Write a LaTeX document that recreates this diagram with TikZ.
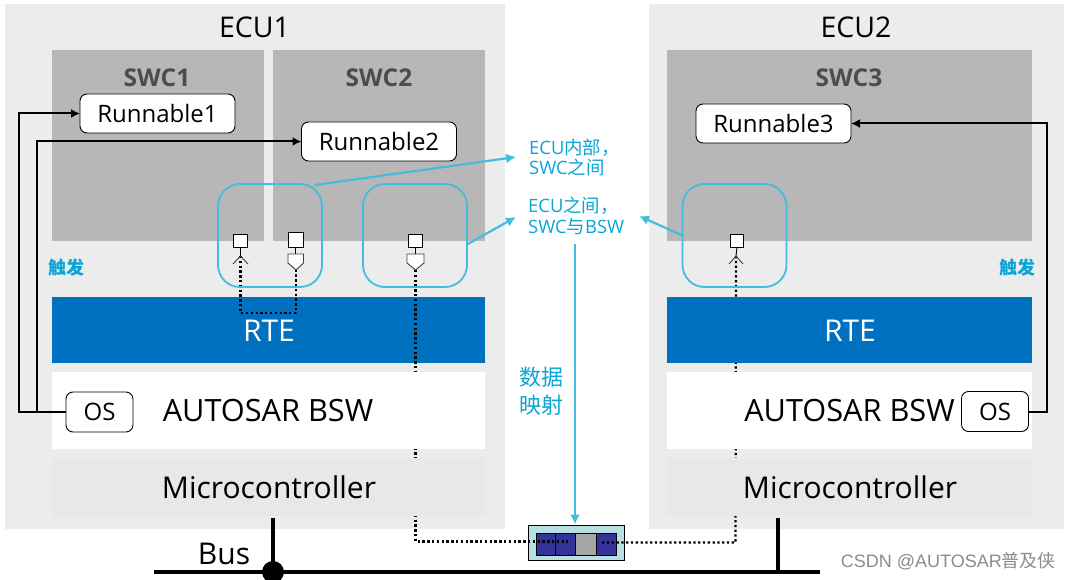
\documentclass[tikz,border=0pt]{standalone}
\usepackage{fontspec}
\setmainfont{Open Sans}
\newfontfamily\cjk{Noto Sans CJK SC}
\newfontfamily\wm{Liberation Sans}
\usetikzlibrary{arrows.meta}
\definecolor{ecubg}{HTML}{ECECEC}
\definecolor{swcbg}{HTML}{B7B7B7}
\definecolor{rteblue}{HTML}{0070C0}
\definecolor{mcubg}{HTML}{E7E8EA}
\definecolor{cyanline}{HTML}{45BCDE}
\definecolor{cyantext}{HTML}{0AA5D6}
\definecolor{bufbg}{HTML}{B7E0E4}
\definecolor{cellblue}{HTML}{333399}
\definecolor{cellgrey}{HTML}{A6A6A6}
\tikzset{
  x=1pt,y=-1pt,
  panel/.style={draw=none,inner sep=0pt,outer sep=0pt},
  ecubox/.style={panel,fill=ecubg,minimum height=525pt},
  swcbox/.style={panel,fill=swcbg,minimum height=191pt},
  layertext/.style={font=\fontsize{30}{32}\selectfont},
  bswtext/.style={font=\fontsize{30.7}{32}\selectfont},
  ecutext/.style={font=\fontsize{28.5}{30}\selectfont},
  swctext/.style={font=\fontsize{24.5}{26}\selectfont\bfseries,text=black!70},
  runbox/.style={draw=black,line width=0.9pt,fill=white,rounded corners=7pt,minimum width=155pt,minimum height=39pt,inner sep=0pt,outer sep=0pt,font=\fontsize{24}{26}\selectfont},
  osbox/.style={draw=black,line width=0.9pt,fill=white,rounded corners=7pt,minimum width=67pt,minimum height=40pt,inner sep=0pt,outer sep=0pt,font=\fontsize{24}{26}\selectfont},
  scope box/.style={draw=cyanline,line width=1.8pt,rounded corners=22pt,minimum width=104pt,minimum height=103pt,inner sep=0pt,outer sep=0pt},
  portsq/.style={draw=black,line width=1pt,fill=white,inner sep=0pt,outer sep=0pt,minimum width=14pt,minimum height=13pt},
  portstem/.style={draw=black,line width=0.9pt},
  dotline/.style={draw=black,line width=2.2pt,dash pattern=on 2.3pt off 2.5pt},
  trig/.style={draw=black,line width=2pt,-{Latex[length=9pt,width=9pt]}},
  callout/.style={draw=cyanline,line width=2.2pt,-{Latex[length=10pt,width=10pt]}},
  note/.style={inner sep=0pt,text=cyantext,anchor=west,font=\fontsize{18.4}{20}\selectfont},
  cell/.style={draw=black,line width=1pt,inner sep=0pt,outer sep=0pt,minimum height=22pt},
  busline/.style={draw=black,line width=4.2pt},
}
\begin{document}
\begin{tikzpicture}
\clip (0,0) rectangle (1070,580);
\fill[white] (0,0) rectangle (1070,580);

% ECU panels
\node[ecubox,minimum width=500pt] (ecu1) at (255,266.5) {};
\node[ecubox,minimum width=415pt] (ecu2) at (856.5,266.5) {};
\node[ecutext] (ecu1t) at (254.5,27.5) {ECU1};
\node[ecutext] (ecu2t) at (856,27.5) {ECU2};

% SWC panels
\node[swcbox,minimum width=212pt] (swc1) at (158,145.5) {};
\node[swcbox,minimum width=212pt] (swc2) at (379,145.5) {};
\node[swcbox,minimum width=365pt] (swc3) at (849.5,145.5) {};
\node[swctext] (swc1t) at (157,78) {SWC1};
\node[swctext] (swc2t) at (379,78) {SWC2};
\node[swctext] (swc3t) at (849,78) {SWC3};

% Queue on the bus
\node[draw=black,line width=1pt,fill=bufbg,inner sep=0pt,minimum width=96pt,minimum height=35pt] (buf) at (576,542.5) {};
\node[cell,fill=cellblue,minimum width=20pt] (c1) at (546,544) {};
\node[cell,fill=cellblue,minimum width=20pt] (c2) at (565.5,544) {};
\node[cell,fill=cellgrey,minimum width=21pt] (c3) at (586,544) {};
\node[cell,fill=cellblue,minimum width=20pt] (c4) at (606.5,544) {};

% RTE of ECU1 lies under the dotted line
\node[panel,fill=rteblue,minimum width=433pt,minimum height=66pt] (rte1) at (268.5,330) {};

% Port anchors
\coordinate (tipa) at (240.5,256);
\coordinate (tipb) at (296,270);
\coordinate (tipc) at (415.5,270);
\coordinate (tipd) at (736,256);
\coordinate (bendab) at (240.5,313);
\coordinate (bendba) at (296,313);
\coordinate (bendc) at (415.5,541.5);
\coordinate (endc) at (568,541.5);
\coordinate (bendd) at (735.5,542.5);
\coordinate (endd) at (602,542.5);

% Dotted communication lines
\draw[dotline] (tipa) -- (bendab) -- (bendba) -- (tipb);
\draw[dotline] (tipc) -- (bendc) -- (endc);
\draw[dotline] (tipd) -- (bendd) -- (endd);

% Remaining layers
\node[panel,fill=rteblue,minimum width=365pt,minimum height=66pt] (rte2) at (849.5,330) {};
\node[panel,fill=white,minimum width=433pt,minimum height=77pt] (bsw1) at (268.5,410.5) {};
\node[panel,fill=white,minimum width=365pt,minimum height=77pt] (bsw2) at (849.5,410.5) {};
\node[panel,fill=mcubg,minimum width=433pt,minimum height=58pt] (mcu1) at (268.5,487) {};
\node[panel,fill=mcubg,minimum width=365pt,minimum height=58pt] (mcu2) at (849.5,487) {};
\node[layertext,text=white] (rte1t) at (269,331) {RTE};
\node[layertext,text=white] (rte2t) at (850,331) {RTE};
\node[bswtext] (bsw1t) at (268,411) {AUTOSAR BSW};
\node[bswtext] (bsw2t) at (849.5,411) {AUTOSAR BSW};
\node[layertext] (mcu1t) at (269,487.5) {Microcontroller};
\node[layertext] (mcu2t) at (850,487.5) {Microcontroller};

% Runnables and OS
\node[runbox] (run1) at (157.5,113.5) {Runnable1};
\node[runbox] (run2) at (379,141.5) {Runnable2};
\node[runbox] (run3) at (773.5,123.5) {Runnable3};
\node[osbox] (os1) at (99.5,412) {OS};
\node[osbox] (os2) at (995,411.5) {OS};

% Trigger connectors
\draw[trig] (os1.west) -- (37,412) -- (19,412) -- (19,113.5) -- (run1.west);
\draw[trig] (os1.west) -- (37,412) -- (37,141.5) -- (run2.west);
\draw[trig] (os2.east) -- (1047,411.5) -- (1047,123.5) -- (run3.east);
\node[inner sep=0pt,text=cyantext,font=\cjk\fontsize{18}{20}\selectfont\bfseries] (trig1) at (66,268) {触发};
\node[inner sep=0pt,text=cyantext,font=\cjk\fontsize{18}{20}\selectfont\bfseries] (trig2) at (1017,268) {触发};

% Ports
\node[portsq,minimum width=14.5pt] (pa) at (240.5,240.5) {};
\draw[portstem] (pa.south) -- (tipa);
\draw[black!75,line width=0.9pt] (233,264) -- (tipa) -- (248,264);

\node[portsq,minimum width=15pt,minimum height=15pt] (pb) at (295.5,240) {};
\draw[portstem] (pb.south) -- (295.5,254);
\draw[draw=black!75,fill=white,line width=0.9pt] (288,254) -- (303.5,254) -- (303.5,263) -- (tipb) -- (288,263) -- cycle;

\node[portsq] (pc) at (415.5,240.5) {};
\draw[portstem] (pc.south) -- (415.5,254);
\draw[draw=black!75,fill=white,line width=0.9pt] (407,254) -- (424,254) -- (424,263) -- (tipc) -- (407,263) -- cycle;

\node[portsq,minimum width=13.5pt] (pd) at (737,240.5) {};
\draw[portstem] (pd.south) -- (tipd);
\draw[black!75,line width=0.9pt] (729,264) -- (tipd) -- (743,264);

% Scope frames
\node[scope box] (sa) at (270,235.5) {};
\node[scope box] (sb) at (415,235.5) {};
\node[scope box] (sc) at (734.5,235.5) {};

% Notes
\node[note] (n1a) at (529,147.5) {ECU{\cjk 内部，}};
\node[note] (n1b) at (529,167.5) {SWC{\cjk 之间}};
\node[note] (n2a) at (528,205.5) {ECU{\cjk 之间，}};
\node[note] (n2b) at (528,226.5) {SWC{\cjk 与}BSW};
\coordinate (na) at (516,157);
\coordinate (nb) at (516,217);
\coordinate (nc) at (639,216);
\draw[callout] (sa.north east) ++(-7,1) -- (na);
\draw[callout] (sb.east) ++(0,9) -- (nb);
\draw[callout] (sc.west) -- (nc);
\node[inner sep=0pt,text=cyantext,font=\cjk\fontsize{22}{28}\selectfont,align=center] (map) at (541.5,391) {数据\\映射};
\coordinate (mapstart) at (575,244);
\draw[callout] (mapstart) -- (buf.north -| mapstart);

% Bus
\coordinate (busl) at (154,572);
\coordinate (busr) at (820,572);
\draw[busline] (busl) -- (busr);
\draw[busline] (273,518) -- (273,572);
\draw[busline] (778,518) -- (778,572);
\fill[black] (273,572) circle (11);
\node[layertext] (bus) at (224,554) {Bus};

% Watermark
\node[inner sep=0pt,anchor=east,text=black!45,font=\wm\fontsize{18}{20}\selectfont] (mark) at (1056,561) {CSDN @AUTOSAR{\cjk 普及侠}};
\end{tikzpicture}
\end{document}
